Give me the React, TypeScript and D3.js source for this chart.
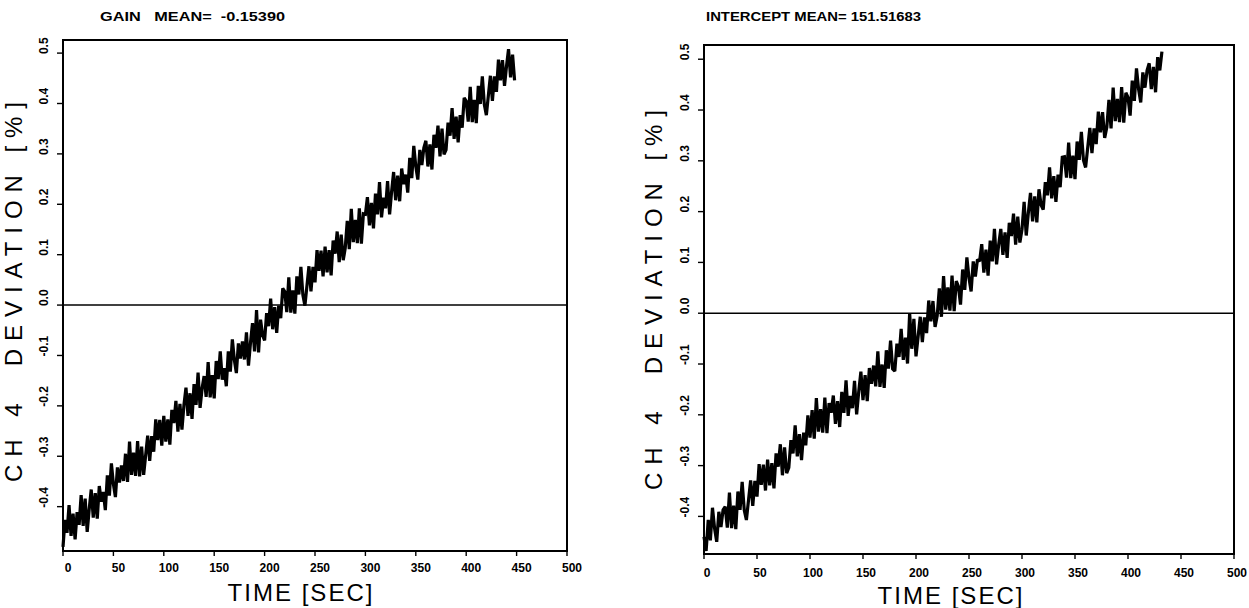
import React from "react";
import * as d3 from "d3";

// ---------- data ----------
const xTicks = [0, 50, 100, 150, 200, 250, 300, 350, 400, 450, 500];
const yTicks = [-0.4, -0.3, -0.2, -0.1, 0.0, 0.1, 0.2, 0.3, 0.4, 0.5];
const yTickLabels = ["-0.4", "-0.3", "-0.2", "-0.1", "0.0", "0.1", "0.2", "0.3", "0.4", "0.5"];
const sampleStepSec = 2;

const gainTitle = "GAIN   MEAN=  -0.15390";
const interceptTitle = "INTERCEPT MEAN= 151.51683";
const yAxisTitle = "CH 4  DEVIATION [%]";
const xAxisTitle = "TIME [SEC]";

// deviation [%] sampled every 2 s (gain panel)
const gainDeviation = [
  -0.480, -0.426, -0.452, -0.397, -0.458, -0.414, -0.465, -0.411, -0.436, -0.377,
  -0.438, -0.384, -0.450, -0.405, -0.366, -0.422, -0.373, -0.424, -0.359, -0.390,
  -0.371, -0.407, -0.338, -0.378, -0.314, -0.355, -0.381, -0.322, -0.352, -0.318,
  -0.349, -0.295, -0.351, -0.271, -0.337, -0.293, -0.339, -0.270, -0.340, -0.281,
  -0.337, -0.298, -0.259, -0.309, -0.260, -0.291, -0.227, -0.268, -0.228, -0.279,
  -0.220, -0.271, -0.227, -0.277, -0.208, -0.234, -0.190, -0.251, -0.196, -0.247,
  -0.198, -0.164, -0.220, -0.175, -0.226, -0.157, -0.198, -0.134, -0.204, -0.165,
  -0.141, -0.182, -0.113, -0.183, -0.139, -0.185, -0.111, -0.147, -0.092, -0.148,
  -0.125, -0.161, -0.092, -0.132, -0.068, -0.109, -0.135, -0.076, -0.106, -0.072,
  -0.108, -0.054, -0.120, -0.075, -0.036, -0.092, -0.010, -0.094, -0.029, -0.060,
  -0.070, -0.016, -0.042, 0.013, -0.048, -0.004, -0.055, -0.001, -0.026, 0.033,
  0.027, -0.014, 0.055, -0.015, 0.029, -0.017, 0.057, 0.021, 0.076, 0.020,
  -0.001, 0.038, 0.077, 0.027, 0.076, 0.045, 0.109, 0.068, 0.108, 0.057,
  0.116, 0.065, 0.109, 0.059, 0.128, 0.102, 0.146, 0.085, 0.140, 0.089,
  0.113, 0.167, 0.111, 0.191, 0.125, 0.169, 0.123, 0.192, 0.122, 0.181,
  0.180, 0.214, 0.158, 0.203, 0.152, 0.221, 0.180, 0.244, 0.174, 0.213,
  0.192, 0.246, 0.180, 0.225, 0.264, 0.208, 0.257, 0.206, 0.271, 0.240,
  0.259, 0.223, 0.292, 0.252, 0.316, 0.275, 0.249, 0.308, 0.278, 0.312,
  0.326, 0.275, 0.319, 0.269, 0.338, 0.312, 0.356, 0.295, 0.350, 0.299,
  0.308, 0.362, 0.336, 0.391, 0.330, 0.374, 0.323, 0.377, 0.352, 0.411,
  0.405, 0.364, 0.433, 0.363, 0.407, 0.361, 0.435, 0.399, 0.454, 0.398,
  0.377, 0.416, 0.455, 0.405, 0.454, 0.423, 0.487, 0.446, 0.486, 0.435,
  0.474, 0.508, 0.452, 0.497, 0.446,
];

// deviation [%] sampled every 2 s (intercept panel)
const interceptDeviation = [
  -0.440, -0.468, -0.407, -0.447, -0.383, -0.424, -0.450, -0.391, -0.421, -0.387,
  -0.381, -0.422, -0.353, -0.423, -0.379, -0.425, -0.351, -0.387, -0.332, -0.388,
  -0.407, -0.368, -0.329, -0.379, -0.330, -0.361, -0.297, -0.338, -0.298, -0.349,
  -0.288, -0.339, -0.295, -0.345, -0.276, -0.302, -0.258, -0.319, -0.264, -0.315,
  -0.304, -0.250, -0.276, -0.221, -0.282, -0.238, -0.289, -0.235, -0.260, -0.201,
  -0.245, -0.191, -0.247, -0.167, -0.233, -0.189, -0.235, -0.166, -0.236, -0.177,
  -0.196, -0.162, -0.218, -0.173, -0.224, -0.155, -0.196, -0.132, -0.202, -0.163,
  -0.187, -0.133, -0.199, -0.154, -0.115, -0.171, -0.122, -0.173, -0.108, -0.139,
  -0.103, -0.144, -0.075, -0.145, -0.101, -0.147, -0.073, -0.109, -0.054, -0.110,
  -0.114, -0.060, -0.086, -0.031, -0.092, -0.048, -0.099, 0.000, -0.070, -0.011,
  -0.085, -0.046, -0.007, -0.057, -0.008, -0.039, 0.025, -0.016, 0.024, -0.027,
  -0.005, 0.049, -0.007, 0.073, 0.007, 0.051, 0.005, 0.074, 0.004, 0.063,
  0.053, 0.017, 0.086, 0.046, 0.110, 0.069, 0.043, 0.102, 0.072, 0.106,
  0.102, 0.136, 0.080, 0.125, 0.074, 0.143, 0.102, 0.166, 0.096, 0.135,
  0.166, 0.115, 0.159, 0.109, 0.178, 0.152, 0.196, 0.135, 0.190, 0.139,
  0.165, 0.219, 0.153, 0.198, 0.237, 0.181, 0.230, 0.179, 0.244, 0.213,
  0.204, 0.258, 0.232, 0.287, 0.226, 0.270, 0.219, 0.273, 0.248, 0.307,
  0.308, 0.267, 0.336, 0.266, 0.310, 0.264, 0.338, 0.302, 0.357, 0.301,
  0.287, 0.326, 0.365, 0.315, 0.364, 0.333, 0.397, 0.356, 0.396, 0.345,
  0.366, 0.420, 0.364, 0.444, 0.378, 0.422, 0.376, 0.445, 0.375, 0.434,
  0.425, 0.389, 0.458, 0.418, 0.482, 0.441, 0.415, 0.474, 0.444, 0.478,
  0.492, 0.441, 0.485, 0.435, 0.504, 0.478, 0.515,
];

// ---------- drawing ----------
type Layout = {
  left: number; right: number; top: number; bottom: number;
  yDomain: [number, number];
  titleX: number; titleY: number; titleLen: number;
  yTitleX: number; yTitleY: number; yTitleLen: number;
  yLabelX: number;
  xLabelY: number; xLabelDx: number;
  xTitleX: number; xTitleY: number; xTitleLen: number;
};

const FONT = "'Liberation Sans', Arial, sans-serif";

function Panel({ data, title, L }: { data: number[]; title: string; L: Layout }) {
  const x = d3.scaleLinear().domain([0, 500]).range([L.left, L.right]);
  const y = d3.scaleLinear().domain(L.yDomain).range([L.bottom, L.top]);
  const line = d3
    .line<number>()
    .x((_, i) => x(i * sampleStepSec))
    .y((d) => y(d));
  return (
    <g>
      <text
        x={L.titleX}
        y={L.titleY}
        fontFamily={FONT}
        fontSize={12}
        fontWeight={700}
        textLength={L.titleLen}
        lengthAdjust="spacingAndGlyphs"
        style={{ whiteSpace: "pre" }}
      >
        {title}
      </text>
      <rect
        x={L.left}
        y={L.top}
        width={L.right - L.left}
        height={L.bottom - L.top}
        fill="none"
        stroke="#000"
        strokeWidth={2}
      />
      <line x1={L.left} x2={L.right} y1={y(0)} y2={y(0)} stroke="#000" strokeWidth={1.6} />
      <path
        d={line(data) || ""}
        fill="none"
        stroke="#000"
        strokeWidth={3.2}
        strokeLinejoin="miter"
        strokeMiterlimit={2}
      />
      {yTicks.map((t, i) => (
        <g key={"y" + i}>
          <line x1={L.left - 6} x2={L.left} y1={y(t)} y2={y(t)} stroke="#000" strokeWidth={1.4} />
          <text
            transform={`translate(${L.yLabelX},${y(t) + 1}) rotate(-90)`}
            fontFamily={FONT}
            fontSize={12}
            fontWeight={700}
            textAnchor="start"
          >
            {yTickLabels[i]}
          </text>
        </g>
      ))}
      {xTicks.map((t, i) => (
        <g key={"x" + i}>
          <line x1={x(t)} x2={x(t)} y1={L.bottom} y2={L.bottom + 5} stroke="#000" strokeWidth={1.4} />
          <text
            x={x(t) + L.xLabelDx}
            y={L.xLabelY}
            fontFamily={FONT}
            fontSize={12}
            fontWeight={700}
            textAnchor="middle"
          >
            {t}
          </text>
        </g>
      ))}
      <text
        transform={`translate(${L.yTitleX},${L.yTitleY}) rotate(-90)`}
        fontFamily={FONT}
        fontSize={24}
        textAnchor="middle"
        textLength={L.yTitleLen}
        lengthAdjust="spacing"
        style={{ whiteSpace: "pre" }}
      >
        {yAxisTitle}
      </text>
      <text
        x={L.xTitleX}
        y={L.xTitleY}
        fontFamily={FONT}
        fontSize={24}
        textAnchor="middle"
        textLength={L.xTitleLen}
        lengthAdjust="spacing"
      >
        {xAxisTitle}
      </text>
    </g>
  );
}

const leftLayout: Layout = {
  left: 63, right: 567, top: 40, bottom: 551,
  yDomain: [-0.488, 0.526],
  titleX: 100, titleY: 21, titleLen: 185,
  yTitleX: 22, yTitleY: 292, yTitleLen: 380,
  yLabelX: 48,
  xLabelY: 572, xLabelDx: 5,
  xTitleX: 300, xTitleY: 601, xTitleLen: 145,
};

const rightLayout: Layout = {
  left: 704, right: 1234, top: 45, bottom: 554,
  yDomain: [-0.474, 0.528],
  titleX: 706, titleY: 21, titleLen: 215,
  yTitleX: 662, yTitleY: 300, yTitleLen: 380,
  yLabelX: 689,
  xLabelY: 577, xLabelDx: 3,
  xTitleX: 950, xTitleY: 604, xTitleLen: 145,
};

export default function App() {
  return (
    <svg
      width={1249}
      height={608}
      style={{ position: "absolute", left: 0, top: 0, background: "#fff" }}
    >
      <rect x={0} y={0} width={1249} height={608} fill="#fff" />
      <Panel data={gainDeviation} title={gainTitle} L={leftLayout} />
      <Panel data={interceptDeviation} title={interceptTitle} L={rightLayout} />
    </svg>
  );
}
